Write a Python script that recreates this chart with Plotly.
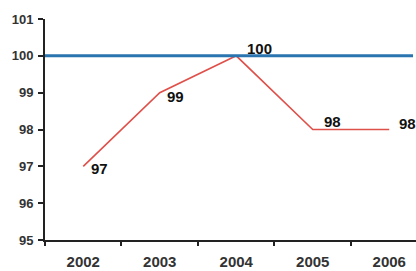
import plotly.graph_objects as go

years = ["2002", "2003", "2004", "2005", "2006"]
values = [97, 99, 100, 98, 98]
value_labels = ["97", "99", "100", "98", "98"]
label_xshift = [6, 5, 9, 9, 8]
label_yshift = [-2, -4, 7, 8, 6]
target = 100
y_ticks = [95, 96, 97, 98, 99, 100, 101]

fig = go.Figure()
fig.add_trace(go.Scatter(
    x=years, y=values, mode="lines",
    line=dict(color="#e0504a", width=1.6),
    showlegend=False, hoverinfo="skip",
))
fig.add_shape(type="line", xref="paper", yref="y", x0=0, x1=0.992, y0=target, y1=target,
              line=dict(color="#2a74b0", width=3))

for i, (v, t, dx, dy) in enumerate(zip(values, value_labels, label_xshift, label_yshift)):
    fig.add_annotation(x=i, y=v, text=t, showarrow=False, xanchor="left", yanchor="middle",
                       xshift=dx, yshift=dy,
                       font=dict(family="Liberation Sans", size=15, color="#111", weight="bold"))

fig.update_layout(
    width=416, height=271,
    margin=dict(l=45, r=0, t=19, b=31),
    paper_bgcolor="white", plot_bgcolor="white",
    font=dict(family="Liberation Sans", size=13, color="#333"),
    xaxis=dict(type="category", range=[-0.5, 4.35], tickson="boundaries",
               showline=True, linecolor="#222", linewidth=2,
               ticks="outside", ticklen=4, tickcolor="#222", tickwidth=1.5,
               showgrid=False, zeroline=False, automargin=False,
               tickfont=dict(family="Liberation Sans", size=15, color="#333", weight="bold"),
               ticklabelstandoff=7),
    yaxis=dict(range=[95, 101], tickvals=y_ticks,
               showline=True, linecolor="#222", linewidth=2,
               ticks="outside", ticklen=5, tickcolor="#222", tickwidth=1.5,
               showgrid=False, zeroline=False, automargin=False,
               tickfont=dict(family="Liberation Sans", size=13, color="#333", weight="bold"),
               ticklabelstandoff=2),
)
fig.write_html("out.html", config={"displayModeBar": False},
               post_script="document.body.style.margin='0';document.body.style.overflow='hidden';")
